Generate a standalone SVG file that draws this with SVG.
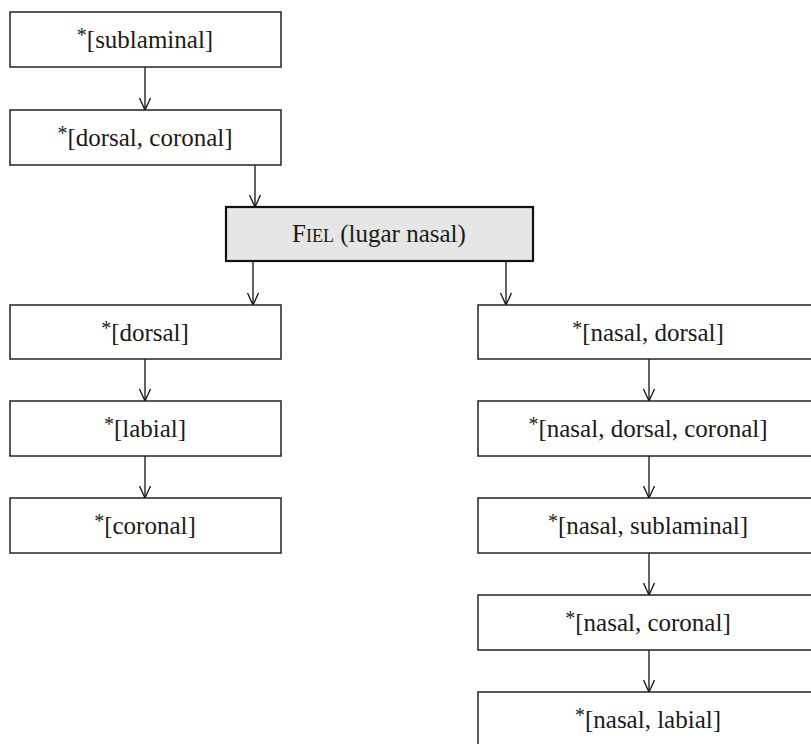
<svg xmlns="http://www.w3.org/2000/svg" width="811" height="744" viewBox="0 0 811 744">
<style>
.box{fill:#ffffff;stroke:#222;stroke-width:1.5}
.fiel{fill:#e6e6e6;stroke:#111;stroke-width:2.2}
.t{font-family:"Liberation Serif","Times New Roman",serif;font-size:25px;fill:#1a1a1a;text-anchor:middle}
.ast{font-size:20px;fill:#1a1a1a}
.conn{stroke:#111;stroke-width:1.3;fill:none;marker-end:url(#ah)}
</style>
<defs>
<marker id="ah" markerUnits="userSpaceOnUse" markerWidth="14" markerHeight="14" refX="13" refY="7" orient="auto" viewBox="0 0 14 14">
<path d="M1,1.5 L13,7 L1,12.5" fill="none" stroke="#111" stroke-width="1.3"/>
</marker>
</defs>
<rect width="811" height="744" fill="#ffffff"/>
<g id="connectors">
<line class="conn" x1="145" y1="67" x2="145" y2="110"/>
<line class="conn" x1="255" y1="165" x2="255" y2="207"/>
<line class="conn" x1="253" y1="261" x2="253" y2="305"/>
<line class="conn" x1="506" y1="261" x2="506" y2="305"/>
<line class="conn" x1="145" y1="359" x2="145" y2="401"/>
<line class="conn" x1="145" y1="456" x2="145" y2="498"/>
<line class="conn" x1="649" y1="359" x2="649" y2="401"/>
<line class="conn" x1="649" y1="456" x2="649" y2="498"/>
<line class="conn" x1="649" y1="553" x2="649" y2="595"/>
<line class="conn" x1="649" y1="650" x2="649" y2="692"/>
</g>
<g id="n-sublaminal">
<rect class="box" x="10" y="12" width="271" height="55"/>
<text class="t" x="145" y="48"><tspan class="ast" dy="-6">*</tspan><tspan dy="6">[sublaminal]</tspan></text>
</g>
<g id="n-dorsal-coronal">
<rect class="box" x="10" y="110" width="271" height="55"/>
<text class="t" x="145" y="146"><tspan class="ast" dy="-6">*</tspan><tspan dy="6">[dorsal, coronal]</tspan></text>
</g>
<g id="n-fiel">
<rect class="fiel" x="226" y="207" width="307" height="54"/>
<text class="t" x="379" y="242">F<tspan style="font-size:18px">IEL</tspan> (lugar nasal)</text>
</g>
<g id="n-dorsal">
<rect class="box" x="10" y="305" width="271" height="54"/>
<text class="t" x="145" y="341"><tspan class="ast" dy="-6">*</tspan><tspan dy="6">[dorsal]</tspan></text>
</g>
<g id="n-labial">
<rect class="box" x="10" y="401" width="271" height="55"/>
<text class="t" x="145" y="437"><tspan class="ast" dy="-6">*</tspan><tspan dy="6">[labial]</tspan></text>
</g>
<g id="n-coronal">
<rect class="box" x="10" y="498" width="271" height="55"/>
<text class="t" x="145" y="534"><tspan class="ast" dy="-6">*</tspan><tspan dy="6">[coronal]</tspan></text>
</g>
<g id="n-nasal-dorsal">
<rect class="box" x="478" y="305" width="342" height="54"/>
<text class="t" x="648" y="341"><tspan class="ast" dy="-6">*</tspan><tspan dy="6">[nasal, dorsal]</tspan></text>
</g>
<g id="n-nasal-dorsal-coronal">
<rect class="box" x="478" y="401" width="342" height="55"/>
<text class="t" x="648" y="437"><tspan class="ast" dy="-6">*</tspan><tspan dy="6">[nasal, dorsal, coronal]</tspan></text>
</g>
<g id="n-nasal-sublaminal">
<rect class="box" x="478" y="498" width="342" height="55"/>
<text class="t" x="648" y="534"><tspan class="ast" dy="-6">*</tspan><tspan dy="6">[nasal, sublaminal]</tspan></text>
</g>
<g id="n-nasal-coronal">
<rect class="box" x="478" y="595" width="342" height="55"/>
<text class="t" x="648" y="631"><tspan class="ast" dy="-6">*</tspan><tspan dy="6">[nasal, coronal]</tspan></text>
</g>
<g id="n-nasal-labial">
<rect class="box" x="478" y="692" width="342" height="55"/>
<text class="t" x="648" y="728"><tspan class="ast" dy="-6">*</tspan><tspan dy="6">[nasal, labial]</tspan></text>
</g>
</svg>
